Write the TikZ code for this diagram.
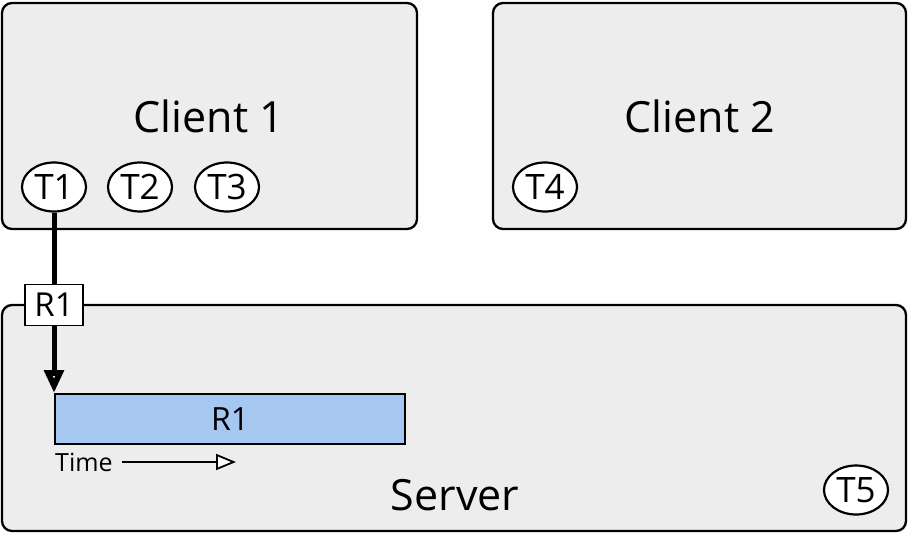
\documentclass[tikz,border=0pt]{standalone}
\usepackage{fontspec}
\setmainfont{Open Sans}
\usetikzlibrary{arrows.meta,shapes.geometric}
\definecolor{panel}{HTML}{EDEDED}
\definecolor{barblue}{HTML}{A6C8F0}
\newcommand{\fs}[1]{\fontsize{#1}{#1}\selectfont}
\begin{document}
\begin{tikzpicture}[x=1pt,y=-1pt,
  panelbox/.style={draw=black,line width=2.3pt,fill=panel,rounded corners=10pt},
  thread/.style={draw=black,line width=2.2pt,fill=white,ellipse,minimum width=64pt,minimum height=49pt,inner sep=0pt,font=\fs{35}},
  reqbox/.style={draw=black,line width=1.8pt,fill=white,minimum width=58pt,minimum height=41pt,inner sep=0pt,font=\fs{33}},
  bigtitle/.style={font=\fs{43}}]
\useasboundingbox (0,0) rectangle (909,533);
% client and server panels
\draw[panelbox] (2,3) rectangle (417,229);
\draw[panelbox] (493,3) rectangle (906,229);
\draw[panelbox] (2,305) rectangle (906,531);
\node[bigtitle] (c1) at (209,116) {Client 1};
\node[bigtitle] (c2) at (700,116) {Client 2};
\node[bigtitle] (srv) at (455,495) {Server};
% threads
\node[thread] (t1) at (54,187) {T1};
\node[thread] (t2) at (140,187) {T2};
\node[thread] (t3) at (227,187) {T3};
\node[thread] (t4) at (545,187) {T4};
\node[thread] (t5) at (856,490) {T5};
% request being processed on the server
\node[draw=black,line width=2.2pt,fill=barblue,minimum width=350pt,minimum height=50pt,inner sep=0pt,anchor=north west,font=\fs{32}] (bar) at (54,393) {R1};
\node[reqbox] (req) at (54,305) {R1};
\draw[line width=5pt] (t1.south) -- (req.north);
\draw[line width=5pt,-{Triangle[width=19pt,length=23pt,fill=white,line width=6.5pt]}] (req.south) -- (req.south |- bar.north);
% time axis
\node[anchor=west,inner sep=0pt,font=\fs{25}] (time) at (55,462) {Time};
\coordinate (tend) at (236,462);
\draw[line width=1.8pt,-{Triangle[width=16pt,length=20pt,fill=white,line width=1.8pt]}] ([xshift=9pt]time.east) -- (tend);
\end{tikzpicture}
\end{document}
